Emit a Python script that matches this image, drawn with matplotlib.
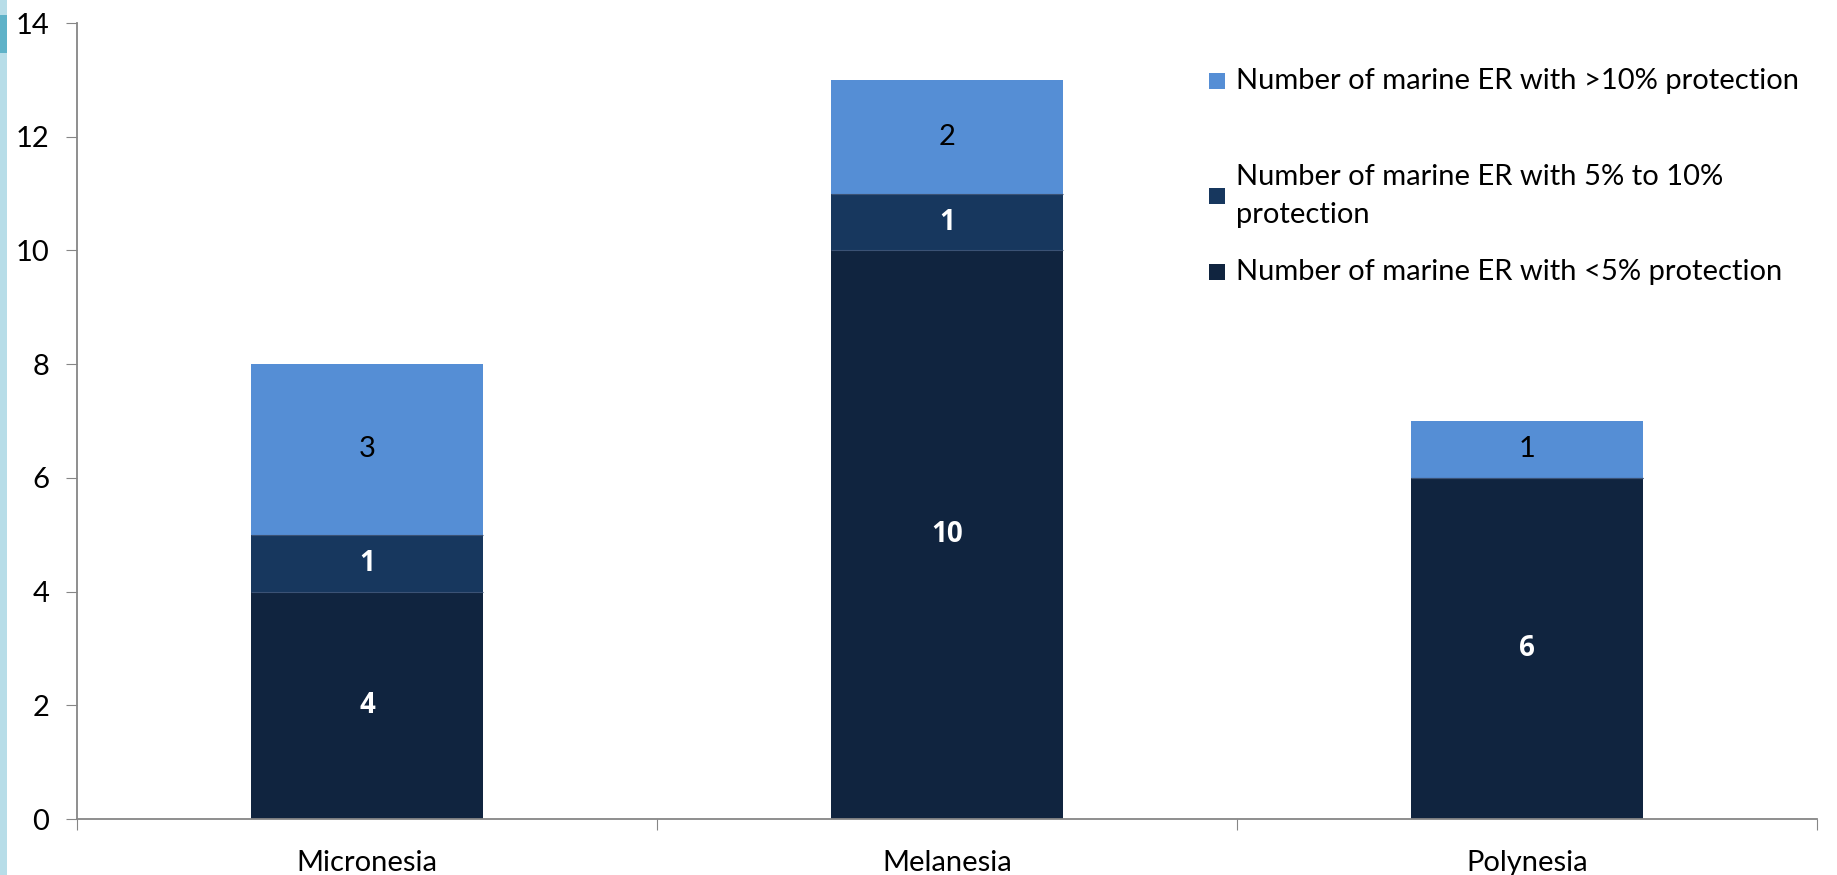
import matplotlib.pyplot as plt
from matplotlib.patches import Rectangle

regions = ["Micronesia", "Melanesia", "Polynesia"]
below5 = [4, 10, 6]
mid5to10 = [1, 1, 0]
above10 = [3, 2, 1]
series_labels = [
    "Number of marine ER with >10% protection",
    "Number of marine ER with 5% to 10%\nprotection",
    "Number of marine ER with <5% protection",
]
yticks = [0, 2, 4, 6, 8, 10, 12, 14]

c_light = "#558ed5"
c_mid = "#17375e"
c_dark = "#10243f"
axis_grey = "#868686"
fs = 21

plt.rcParams["font.family"] = ["Lato", "DejaVu Sans"]

W, H = 1837, 875
fig = plt.figure(figsize=(W / 100, H / 100), dpi=100)
ax = fig.add_axes([77 / W, 1 - 819 / H, (1817 - 77) / W, (819 - 23) / H])

# decorative strip on the left edge
fig.patches.append(Rectangle((0, 0), 7 / W, 1, transform=fig.transFigure,
                             facecolor="#b7dde8", edgecolor="none"))
fig.patches.append(Rectangle((0, 1 - 53 / H), 7 / W, 38 / H, transform=fig.transFigure,
                             facecolor="#5fb2c8", edgecolor="none"))

x = list(range(len(regions)))
bw = 0.4
bottom_mid = below5
bottom_top = [a + b for a, b in zip(below5, mid5to10)]
b1 = ax.bar(x, below5, bw, color=c_dark, edgecolor="none")
b2 = ax.bar(x, mid5to10, bw, bottom=bottom_mid, color=c_mid, edgecolor="none")
b3 = ax.bar(x, above10, bw, bottom=bottom_top, color=c_light, edgecolor="none")

# thin separators between segments
for xi, bm, bt in zip(x, bottom_mid, bottom_top):
    ax.hlines([bm, bt], xi - bw / 2, xi + bw / 2, colors="#3b5275", linewidth=0.8)

for bars, vals, col, bold in [(b1, below5, "white", True),
                              (b2, mid5to10, "white", True),
                              (b3, above10, "black", False)]:
    for rect, v in zip(bars, vals):
        if v == 0:
            continue
        kw = dict(family=["Open Sans", "DejaVu Sans"], fontweight="bold",
                  fontsize=fs - 1) if bold else dict(fontsize=fs)
        ax.text(rect.get_x() + rect.get_width() / 2, rect.get_y() + v / 2, str(v),
                ha="center", va="center", color=col, **kw)

ax.set_xlim(-0.5, len(regions) - 0.5)
ax.set_ylim(0, 14)
ax.set_yticks(yticks)
ax.set_yticklabels([str(t) for t in yticks], fontsize=fs)
ax.set_xticks([i - 0.5 for i in range(len(regions) + 1)])
ax.set_xticklabels([])
ax.set_xticks(x, minor=True)
ax.set_xticklabels(regions, minor=True, fontsize=fs)
ax.tick_params(axis="x", which="minor", length=0, pad=22)
ax.tick_params(axis="x", which="major", length=8, direction="out", color=axis_grey)
ax.tick_params(axis="y", length=8, direction="out", color=axis_grey, pad=12)
for s in ["top", "right"]:
    ax.spines[s].set_visible(False)
for s in ["left", "bottom"]:
    ax.spines[s].set_color(axis_grey)
    ax.spines[s].set_linewidth(1.3)

# legend, laid out like the original
leg_rows = [(81, c_light), (196, c_mid), (272, c_dark)]
for (yc, col), lab in zip(leg_rows, series_labels):
    fig.patches.append(Rectangle((1209 / W, 1 - (yc + 8) / H), 16 / W, 16 / H,
                                 transform=fig.transFigure, facecolor=col, edgecolor="none"))
    fig.text(1236 / W, 1 - yc / H, lab, ha="left", va="center", fontsize=fs,
             linespacing=1.55)

fig.savefig("out.png", dpi=100)
